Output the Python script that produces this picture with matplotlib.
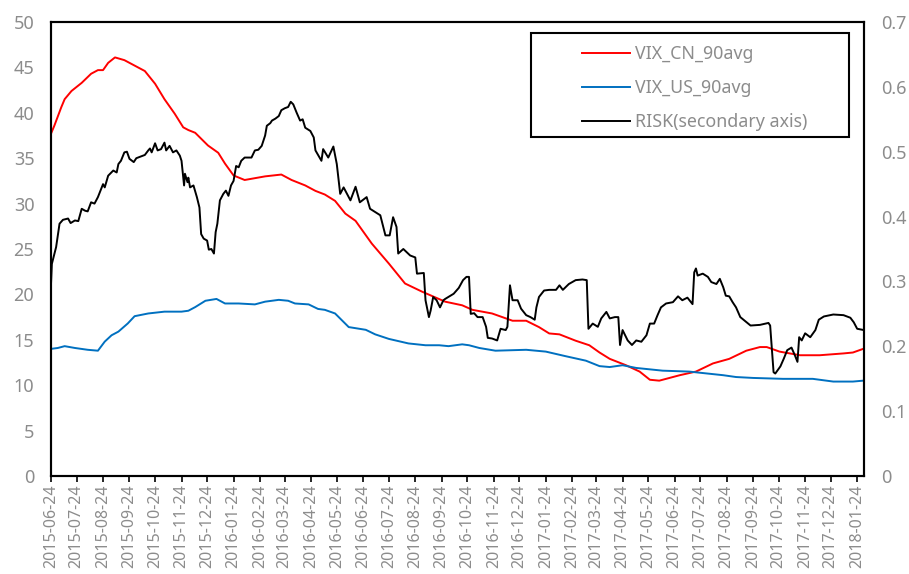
import numpy as np
import datetime as dt
import matplotlib
matplotlib.use("Agg")
import matplotlib.pyplot as plt
import matplotlib.dates as mdates
from matplotlib.patches import Rectangle

plt.rcParams['font.family'] = ['Noto Sans', 'DejaVu Sans']

START = dt.date(2015, 6, 24)

# VIX_CN_90avg (left axis): days after START, value
cn_days = [0, 4, 12, 16, 24, 36, 47, 55, 61, 67, 75, 86, 98, 110, 122, 133, 145, 155,
           161, 169, 184, 196, 204, 214, 227, 251, 270, 282, 298, 310, 321, 333, 345,
           357, 376, 396, 415, 435, 462, 482, 494, 517, 541, 557, 572, 584, 596, 615,
           631, 643, 655, 674, 690, 702, 713, 737, 756, 776, 795, 815, 831, 839, 854,
           878, 901, 929, 940, 952]
cn_vals = [37.7, 38.6, 40.6, 41.5, 42.4, 43.3, 44.3, 44.7, 44.7, 45.5, 46.1, 45.8, 45.2,
           44.6, 43.2, 41.5, 39.9, 38.4, 38.1, 37.8, 36.4, 35.6, 34.4, 33.1, 32.6, 33.0,
           33.2, 32.6, 32.0, 31.4, 31.0, 30.3, 28.9, 28.1, 25.6, 23.4, 21.2, 20.3, 19.2,
           18.8, 18.3, 17.9, 17.1, 17.1, 16.4, 15.7, 15.6, 14.9, 14.4, 13.6, 12.9, 12.2,
           11.5, 10.6, 10.5, 11.1, 11.5, 12.4, 12.9, 13.8, 14.2, 14.2, 13.7, 13.3, 13.3,
           13.5, 13.6, 14.0]

# VIX_US_90avg (left axis)
us_days = [0, 8, 16, 28, 43, 55, 63, 71, 79, 90, 98, 114, 133, 153, 161, 169, 181, 194,
           204, 220, 239, 251, 267, 278, 286, 302, 313, 321, 333, 349, 369, 380, 396,
           419, 439, 455, 466, 482, 490, 502, 521, 557, 580, 603, 627, 643, 655, 670,
           686, 717, 748, 768, 788, 803, 823, 858, 893, 917, 940, 952]
us_vals = [14.0, 14.1, 14.3, 14.1, 13.9, 13.8, 14.8, 15.5, 15.9, 16.8, 17.6, 17.9, 18.1,
           18.1, 18.2, 18.6, 19.3, 19.5, 19.0, 19.0, 18.9, 19.2, 19.4, 19.3, 19.0, 18.9,
           18.4, 18.3, 17.9, 16.4, 16.1, 15.6, 15.1, 14.6, 14.4, 14.4, 14.3, 14.5, 14.4,
           14.1, 13.8, 13.9, 13.7, 13.2, 12.7, 12.1, 12.0, 12.2, 11.9, 11.6, 11.5, 11.3,
           11.1, 10.9, 10.8, 10.7, 10.7, 10.4, 10.4, 10.5]

# RISK (secondary axis)
risk_days = [0, 1, 4, 6, 10, 14, 20, 23, 28, 32, 36, 40, 43, 47, 51, 55, 61, 63, 67, 73,
             77, 79, 82, 86, 89, 92, 97, 100, 110, 114, 116, 118, 122, 125, 129, 133,
             135, 139, 143, 147, 151, 153, 156, 157, 160, 161, 163, 167, 171, 174, 176,
             179, 183, 185, 188, 191, 193, 195, 198, 202, 205, 208, 211, 214, 217, 220,
             223, 227, 235, 239, 243, 247, 251, 253, 257, 259, 263, 267, 270, 274, 278,
             281, 284, 288, 292, 295, 298, 304, 308, 310, 317, 319, 325, 331, 335, 339,
             343, 351, 357, 362, 370, 374, 386, 392, 397, 401, 405, 407, 413, 417, 421,
             427, 429, 437, 439, 443, 445, 448, 452, 456, 460, 462, 472, 478, 483, 487,
             490, 492, 496, 500, 506, 510, 512, 517, 523, 527, 533, 535, 538, 541, 547,
             551, 557, 562, 567, 569, 572, 578, 584, 592, 596, 600, 607, 615, 623, 628,
             630, 635, 641, 645, 651, 655, 661, 665, 667, 670, 676, 681, 686, 692, 698,
             702, 707, 711, 715, 721, 729, 735, 740, 746, 752, 754, 756, 758, 764, 770,
             774, 780, 784, 788, 791, 795, 799, 803, 808, 820, 831, 841, 843, 847, 849,
             855, 859, 863, 868, 872, 875, 877, 880, 884, 890, 896, 900, 906, 917, 929,
             937, 941, 945, 953]
risk_vals = [0.296, 0.327, 0.343, 0.353, 0.389, 0.395, 0.397, 0.390, 0.394, 0.393, 0.412,
             0.409, 0.408, 0.422, 0.420, 0.430, 0.450, 0.445, 0.463, 0.471, 0.468, 0.481,
             0.486, 0.499, 0.500, 0.489, 0.484, 0.490, 0.495, 0.502, 0.505, 0.499, 0.513,
             0.502, 0.504, 0.514, 0.502, 0.509, 0.499, 0.502, 0.494, 0.486, 0.448, 0.466,
             0.453, 0.460, 0.445, 0.448, 0.430, 0.414, 0.373, 0.366, 0.363, 0.349, 0.350,
             0.343, 0.376, 0.389, 0.425, 0.435, 0.440, 0.432, 0.448, 0.455, 0.478, 0.476,
             0.486, 0.491, 0.491, 0.502, 0.503, 0.509, 0.525, 0.540, 0.544, 0.548, 0.551,
             0.555, 0.564, 0.567, 0.569, 0.577, 0.573, 0.560, 0.548, 0.550, 0.537, 0.532,
             0.522, 0.502, 0.486, 0.504, 0.491, 0.508, 0.481, 0.435, 0.445, 0.425, 0.446,
             0.422, 0.430, 0.412, 0.402, 0.371, 0.371, 0.399, 0.384, 0.343, 0.350, 0.345,
             0.340, 0.337, 0.312, 0.313, 0.271, 0.245, 0.255, 0.276, 0.271, 0.260, 0.271,
             0.273, 0.281, 0.290, 0.302, 0.307, 0.307, 0.250, 0.251, 0.245, 0.245, 0.230,
             0.213, 0.212, 0.209, 0.227, 0.225, 0.230, 0.294, 0.271, 0.271, 0.258, 0.248,
             0.245, 0.241, 0.260, 0.276, 0.286, 0.287, 0.287, 0.294, 0.287, 0.296, 0.302,
             0.303, 0.302, 0.227, 0.235, 0.230, 0.243, 0.253, 0.243, 0.245, 0.245, 0.202,
             0.225, 0.209, 0.202, 0.209, 0.207, 0.217, 0.235, 0.235, 0.248, 0.260, 0.266,
             0.268, 0.277, 0.271, 0.275, 0.265, 0.314, 0.320, 0.309, 0.312, 0.307, 0.299,
             0.296, 0.304, 0.291, 0.278, 0.277, 0.268, 0.260, 0.245, 0.232, 0.233, 0.236,
             0.232, 0.160, 0.158, 0.169, 0.181, 0.194, 0.198, 0.186, 0.176, 0.214, 0.209,
             0.220, 0.214, 0.225, 0.241, 0.246, 0.249, 0.248, 0.244, 0.237, 0.227, 0.225]

labels = ["VIX_CN_90avg", "VIX_US_90avg", "RISK(secondary axis)"]
colors = ["#ff0000", "#0070c0", "#000000"]
text_gray = "#8c8c8c"


def to_dates(days):
    return [START + dt.timedelta(days=d) for d in days]


fig = plt.figure(figsize=(9.09, 5.74), dpi=100)
ax = fig.add_axes([51 / 909, 98 / 574, 813 / 909, 454 / 574])
ax2 = ax.twinx()

l1, = ax.plot(to_dates(cn_days), cn_vals, color=colors[0], lw=1.4)
l2, = ax.plot(to_dates(us_days), us_vals, color=colors[1], lw=1.4)
l3, = ax2.plot(to_dates(risk_days), risk_vals, color=colors[2], lw=1.4)

ax.set_xlim(START, START + dt.timedelta(days=953))
ax.set_ylim(0, 50)
ax2.set_ylim(0, 0.7)
ax.set_yticks(np.arange(0, 51, 5))
ax2.set_yticks(np.arange(0, 0.71, 0.1))
ax2.set_yticklabels(["0"] + ["%.1f" % v for v in np.arange(0.1, 0.71, 0.1)])

ticks = [dt.date(2015 + (5 + i) // 12, (5 + i) % 12 + 1, 24) for i in range(32)]
ax.set_xticks(ticks)
ax.xaxis.set_major_formatter(mdates.DateFormatter('%Y-%m-%d'))
for lab in ax.get_xticklabels():
    lab.set_rotation(90)

ax.tick_params(axis='x', length=4, width=1.2, colors='black', labelcolor=text_gray,
               labelsize=11.5, pad=2)
ax.tick_params(axis='y', length=0, labelcolor=text_gray, labelsize=13, pad=12)
ax2.tick_params(axis='y', length=0, labelcolor=text_gray, labelsize=13, pad=12)

for a in (ax, ax2):
    for sp in a.spines.values():
        sp.set_linewidth(1.5)
        sp.set_color('black')

# legend box with large left padding, as in the source chart
fig.patches.append(Rectangle((531 / 909, 437 / 574), 318 / 909, 104 / 574,
                             transform=fig.transFigure, fill=False,
                             edgecolor='black', linewidth=1.5))
leg = fig.legend([l1, l2, l3], labels, loc='upper left',
                 bbox_to_anchor=(566 / 909, 545 / 574), frameon=False,
                 fontsize=12.8, handlelength=2.7, handletextpad=0.28,
                 labelspacing=0.9)
for t in leg.get_texts():
    t.set_color(text_gray)

fig.savefig("out.png", dpi=100)
